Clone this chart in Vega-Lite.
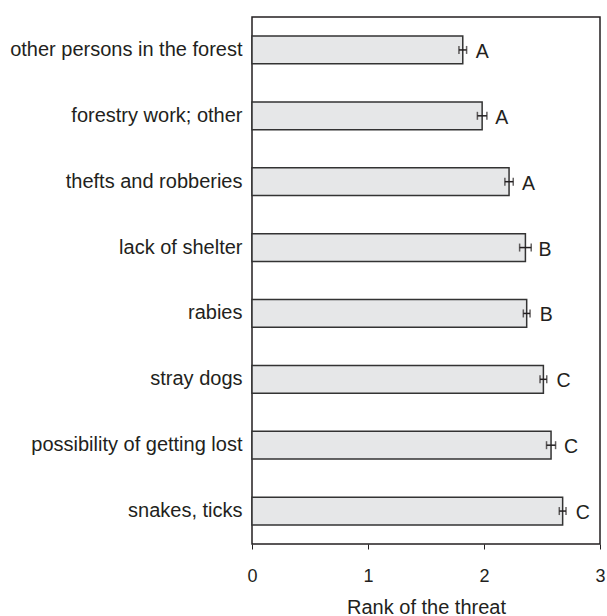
{
  "$schema": "https://vega.github.io/schema/vega-lite/v6.json",
  "width": 348,
  "height": 527,
  "autosize": {"type": "none"},
  "padding": {"left": 252, "top": 17, "right": 7, "bottom": 72},
  "background": "white",
  "data": {
    "values": [
      {"threat": "other persons in the forest", "rank": 1.817, "se": 0.033, "group": "A"},
      {"threat": "forestry work; other", "rank": 1.984, "se": 0.041, "group": "A"},
      {"threat": "thefts and robberies", "rank": 2.216, "se": 0.036, "group": "A"},
      {"threat": "lack of shelter", "rank": 2.357, "se": 0.05, "group": "B"},
      {"threat": "rabies", "rank": 2.368, "se": 0.029, "group": "B"},
      {"threat": "stray dogs", "rank": 2.512, "se": 0.029, "group": "C"},
      {"threat": "possibility of getting lost", "rank": 2.578, "se": 0.039, "group": "C"},
      {"threat": "snakes, ticks", "rank": 2.678, "se": 0.029, "group": "C"}
    ]
  },
  "encoding": {
    "y": {
      "field": "threat",
      "type": "nominal",
      "sort": null,
      "scale": {"paddingInner": 0.58, "paddingOuter": 0.29},
      "axis": {
        "title": null,
        "domain": false,
        "ticks": false,
        "tickSize": 0,
        "labelPadding": 10,
        "labelFont": "Liberation Sans",
        "labelFontSize": 20,
        "labelColor": "#231f20",
        "labelLimit": 300
      }
    },
    "x": {
      "field": "rank",
      "type": "quantitative",
      "scale": {"domain": [0, 3], "nice": false},
      "axis": {
        "title": "Rank of the threat",
        "values": [0, 1, 2, 3],
        "grid": false,
        "domain": false,
        "tickSize": 5,
        "tickColor": "#231f20",
        "tickWidth": 1,
        "labelPadding": 18,
        "labelFont": "Liberation Sans",
        "labelFontSize": 18,
        "labelColor": "#231f20",
        "labelFlush": false,
        "titleFont": "Liberation Sans",
        "titleFontSize": 20,
        "titleFontWeight": "normal",
        "titleColor": "#231f20",
        "titlePadding": 12
      }
    }
  },
  "layer": [
    {
      "mark": {"type": "bar", "fill": "#e6e7e8", "stroke": "#333333", "strokeWidth": 1.5}
    },
    {
      "mark": {
        "type": "errorbar",
        "color": "#231f20",
        "thickness": 1.5,
        "ticks": {"size": 8, "thickness": 1.5}
      },
      "encoding": {
        "xError": {"field": "se"}
      }
    },
    {
      "mark": {
        "type": "text",
        "align": "left",
        "baseline": "middle",
        "dx": 13,
        "dy": 2,
        "font": "Liberation Sans",
        "fontSize": 19.5,
        "color": "#231f20"
      },
      "encoding": {
        "text": {"field": "group"}
      }
    }
  ],
  "config": {
    "view": {"stroke": "#231f20", "strokeWidth": 1.5}
  }
}
